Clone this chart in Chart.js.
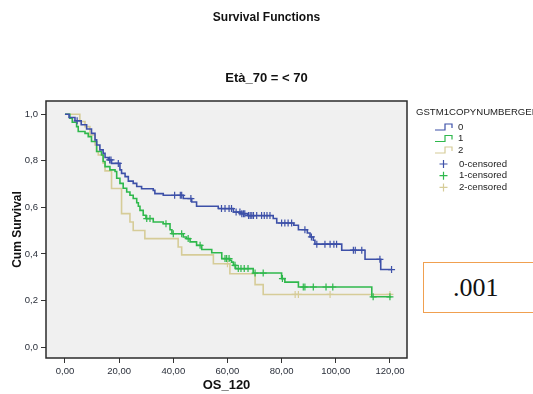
<!DOCTYPE html>
<html>
<head>
<meta charset="utf-8">
<script src="https://cdn.jsdelivr.net/npm/chart.js@4.4.0/dist/chart.umd.min.js"></script>
<style>
  html, body { margin: 0; padding: 0; background: #fff; overflow: hidden; }
  #wrap { position: relative; width: 533px; height: 394px; }
  #pvalue {
    position: absolute; left: 423px; top: 262px; width: 130px; height: 51px;
    box-sizing: border-box; border: 1.5px solid #f0a050; background: #fff;
    display: flex; align-items: center; padding-left: 29px;
    font-family: "Liberation Serif", "Times New Roman", serif; font-size: 26px; color: #111;
  }
</style>
</head>
<body>
<div id="wrap">
  <canvas id="km" width="533" height="394"></canvas>
  <div id="pvalue">.001</div>
</div>
<script>
// Kaplan-Meier steps per GSTM1 copy number group:
// event times (months) and the survival level right after each drop
const times0 = [0, 1.5, 3.7, 6.0, 8.0, 9.8, 11.1, 11.7, 12.9, 14.1, 14.8, 16.0, 17.2, 20.3, 20.9, 22.2, 23.4, 25.2, 26.5, 28.3, 32.6, 33.2, 36.3, 43.7, 46.8, 48.6, 56.6, 62.2, 65.0, 67.5, 76.9, 78.2, 84.5, 86.2, 89.5, 90.5, 91.7, 92.3, 102.2, 110.8, 116.6];
const surv0 = [1.0, 0.986, 0.972, 0.955, 0.937, 0.918, 0.89, 0.868, 0.847, 0.832, 0.814, 0.804, 0.789, 0.761, 0.746, 0.732, 0.713, 0.703, 0.69, 0.68, 0.673, 0.659, 0.652, 0.638, 0.623, 0.605, 0.595, 0.58, 0.573, 0.565, 0.552, 0.533, 0.523, 0.504, 0.49, 0.473, 0.459, 0.442, 0.416, 0.377, 0.333];
const censored0 = [4.5, 16.5, 17.0, 19.7, 40.5, 42.6, 43.1, 46.5, 57.8, 59.1, 60.6, 61.5, 63.2, 64.6, 65.3, 65.9, 66.4, 67.8, 68.4, 69.0, 69.6, 70.8, 72.6, 73.6, 74.6, 75.7, 80.0, 81.2, 82.4, 83.7, 88.6, 91.0, 93.0, 96.0, 97.9, 99.3, 100.3, 106.5, 107.2, 109.6, 116.3, 120.6];

const times1 = [0, 1.8, 2.7, 4.3, 4.9, 7.4, 8.6, 9.8, 11.7, 13.5, 14.1, 14.8, 16.6, 18.5, 19.1, 20.3, 21.5, 22.8, 24.0, 25.2, 26.5, 27.1, 27.7, 28.9, 29.9, 32.6, 36.3, 38.8, 39.5, 43.7, 44.9, 46.2, 48.6, 50.5, 54.2, 57.9, 60.9, 61.5, 62.2, 63.0, 69.5, 80.0, 81.2, 86.2, 113.3];
const surv1 = [1.0, 0.983, 0.966, 0.947, 0.926, 0.918, 0.904, 0.883, 0.84, 0.825, 0.797, 0.775, 0.761, 0.754, 0.725, 0.703, 0.682, 0.666, 0.652, 0.638, 0.62, 0.605, 0.587, 0.566, 0.552, 0.537, 0.53, 0.504, 0.487, 0.473, 0.466, 0.452, 0.437, 0.419, 0.405, 0.38, 0.373, 0.365, 0.351, 0.337, 0.318, 0.294, 0.279, 0.258, 0.216];
const censored1 = [30.2, 31.4, 37.3, 40.0, 43.1, 45.5, 49.9, 59.1, 59.7, 60.6, 62.8, 64.0, 65.0, 66.2, 67.6, 70.2, 73.2, 80.3, 88.0, 88.6, 91.7, 96.4, 98.9, 113.8, 120.0];

const times2 = [0, 5.5, 7.4, 9.2, 11.1, 11.7, 12.3, 14.1, 14.8, 17.2, 20.9, 24.0, 25.2, 29.5, 41.8, 43.1, 54.8, 60.9, 70.2, 73.2];
const surv2 = [1.0, 0.969, 0.947, 0.911, 0.868, 0.84, 0.825, 0.79, 0.757, 0.681, 0.573, 0.537, 0.501, 0.466, 0.43, 0.396, 0.358, 0.315, 0.268, 0.226];
const censored2 = [60.0, 85.0, 86.2, 97.9, 120.0];

// last follow-up time per group, where each curve stops
const followUpEnd = [120.6, 120.5, 120.5];

const groupLabels = ['0', '1', '2'];
const groupColors = ['#3d50a8', '#2fb84c', '#d6cc98'];

const xTickValues = [0, 20, 40, 60, 80, 100, 120];
const yTickValues = [0, 0.2, 0.4, 0.6, 0.8, 1.0];

const FONT = 'Arial, "Liberation Sans", sans-serif';

function survivalAt(times, surv, t) {
  let v = surv[0];
  for (let i = 0; i < times.length; i++) {
    if (times[i] <= t) v = surv[i];
  }
  return v;
}

function stepPoints(times, surv, end) {
  const pts = times.map((t, i) => ({ x: t, y: surv[i] }));
  pts.push({ x: end, y: surv[surv.length - 1] });
  return pts;
}

function censorPoints(times, surv, cens) {
  return cens.map(t => ({ x: t, y: survivalAt(times, surv, t) }));
}

const groups = [
  { times: times0, surv: surv0, cens: censored0 },
  { times: times1, surv: surv1, cens: censored1 },
  { times: times2, surv: surv2, cens: censored2 },
];

// censor marks sit just above their curve; group 0 ends up on top
const datasets = [];
groups.forEach((g, i) => {
  datasets.push({
    type: 'scatter',
    label: groupLabels[i] + '-censored',
    data: censorPoints(g.times, g.surv, g.cens),
    pointStyle: 'cross',
    pointRadius: 3.5,
    pointBorderWidth: 1.2,
    borderColor: groupColors[i],
    backgroundColor: groupColors[i],
    showLine: false,
  });
  datasets.push({
    type: 'line',
    label: groupLabels[i],
    data: stepPoints(g.times, g.surv, followUpEnd[i]),
    stepped: 'before',
    borderColor: groupColors[i],
    borderWidth: 1.6,
    pointRadius: 0,
    fill: false,
  });
});

const plotFrame = {
  id: 'plotFrame',
  beforeDatasetsDraw(chart) {
    const { ctx, chartArea: a } = chart;
    ctx.save();
    ctx.fillStyle = '#f0f0f0';
    ctx.fillRect(a.left, a.top, a.right - a.left, a.bottom - a.top);
    ctx.restore();
  },
  afterDatasetsDraw(chart) {
    const { ctx, chartArea: a } = chart;
    ctx.save();
    ctx.strokeStyle = '#2b2b2b';
    ctx.lineWidth = 1.5;
    ctx.strokeRect(a.left, a.top, a.right - a.left, a.bottom - a.top);
    ctx.restore();
  },
};

// legend to the right of the plot: step icons for curves, crosses for censored cases
const sideLegend = {
  id: 'sideLegend',
  afterDraw(chart) {
    const ctx = chart.ctx;
    const x0 = chart.chartArea.right + 9;
    ctx.save();
    ctx.font = '9.6px ' + FONT;
    ctx.fillStyle = '#222';
    ctx.textBaseline = 'middle';
    ctx.fillText('GSTM1COPYNUMBERGENE', x0, 112);

    groupLabels.forEach((lab, i) => {
      const y = 127 + i * 11.5;
      ctx.strokeStyle = groupColors[i];
      ctx.lineWidth = 1.2;
      ctx.beginPath();
      ctx.moveTo(x0 + 19, y + 3);
      ctx.lineTo(x0 + 29, y + 3);
      ctx.lineTo(x0 + 29, y - 3);
      ctx.lineTo(x0 + 36, y - 3);
      ctx.lineTo(x0 + 36, y + 1);
      ctx.stroke();
      ctx.fillText(lab, x0 + 42, y);
    });

    groupLabels.forEach((lab, i) => {
      const y = 164 + i * 11.7;
      const cx = x0 + 27.5;
      ctx.strokeStyle = groupColors[i];
      ctx.lineWidth = 1.2;
      ctx.beginPath();
      ctx.moveTo(cx - 4, y);
      ctx.lineTo(cx + 4, y);
      ctx.moveTo(cx, y - 4);
      ctx.lineTo(cx, y + 4);
      ctx.stroke();
      ctx.fillText(lab + '-censored', x0 + 43, y);
    });
    ctx.restore();
  },
};

new Chart(document.getElementById('km'), {
  type: 'line',
  data: { datasets },
  plugins: [plotFrame, sideLegend],
  options: {
    responsive: false,
    animation: false,
    devicePixelRatio: 1,
    layout: { padding: 0 },
    plugins: {
      legend: { display: false },
      tooltip: { enabled: false },
      title: {
        display: true,
        text: 'Survival Functions',
        color: '#111',
        font: { family: FONT, size: 12, weight: 'bold' },
        padding: { top: 10, bottom: 0 },
      },
      subtitle: {
        display: true,
        text: 'Età_70 = < 70',
        color: '#111',
        font: { family: FONT, size: 13, weight: 'bold' },
        padding: { top: 45.8, bottom: 15.2 },
      },
    },
    scales: {
      x: {
        type: 'linear',
        min: -7,
        max: 126.3,
        afterBuildTicks: scale => { scale.ticks = xTickValues.map(v => ({ value: v })); },
        afterFit: scale => { scale.height = 36; },
        ticks: {
          callback: v => v.toFixed(2).replace('.', ','),
          color: '#2a2f3a',
          font: { family: FONT, size: 9.5 },
          padding: 3,
          maxRotation: 0,
          autoSkip: false,
        },
        grid: { drawOnChartArea: false, drawTicks: true, tickLength: 5, color: '#333' },
        border: { display: false },
        title: {
          display: true,
          text: 'OS_120',
          color: '#111',
          font: { family: FONT, size: 13, weight: 'bold' },
          padding: { top: 0, bottom: 1.2 },
        },
      },
      y: {
        type: 'linear',
        min: -0.047,
        max: 1.057,
        afterBuildTicks: scale => { scale.ticks = yTickValues.map(v => ({ value: v })); },
        afterFit: scale => { scale.width = 46; },
        ticks: {
          callback: v => v.toFixed(1).replace('.', ','),
          color: '#2a2f3a',
          font: { family: FONT, size: 9.5 },
          padding: 3,
          autoSkip: false,
        },
        grid: { drawOnChartArea: false, drawTicks: true, tickLength: 5, color: '#333' },
        border: { display: false },
        title: {
          display: true,
          text: 'Cum Survival',
          color: '#111',
          font: { family: FONT, size: 12, weight: 'bold' },
          padding: { top: 10.8, bottom: 0 },
        },
      },
      // empty axis that keeps room on the right for the legend
      side: {
        type: 'linear',
        position: 'right',
        min: 0,
        max: 1,
        afterFit: scale => { scale.width = 126; },
        ticks: { display: false },
        grid: { display: false },
        border: { display: false },
      },
    },
  },
});
</script>
</body>
</html>
